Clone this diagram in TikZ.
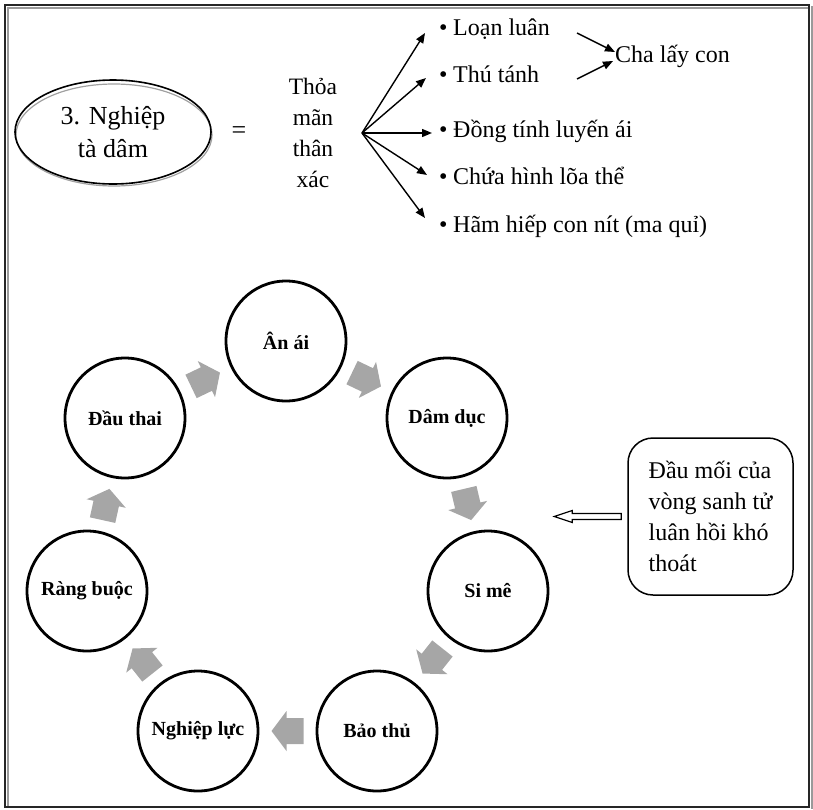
\documentclass[tikz,border=0pt]{standalone}
\usepackage{fontspec}
\setmainfont{Liberation Serif}
\usetikzlibrary{calc,shapes.geometric,arrows.meta}
\definecolor{stepgray}{HTML}{A6A6A6}
\definecolor{framegray}{HTML}{9A9A9A}
\definecolor{shadowgray}{HTML}{A0A0A0}

% grey block arrow half way between two stage circles, pointing from #1 to #2
\newcommand\cyclestep[2]{%
  \fill[stepgray] let \p1=(#1.center), \p2=(#2.center),
      \n1={atan2(\y2-\y1,\x2-\x1)},
      \p3=($(\p1)!0.5!(\p2)$) in
    ($(\p3)+(\n1:16pt)$)
    -- ($(\p3)+(\n1:1pt)+(\n1+90:20pt)$)
    -- ($(\p3)+(\n1:1pt)+(\n1+90:13pt)$)
    -- ($(\p3)+(\n1:-16pt)+(\n1+90:13pt)$)
    -- ($(\p3)+(\n1:-16pt)+(\n1-90:13pt)$)
    -- ($(\p3)+(\n1:1pt)+(\n1-90:13pt)$)
    -- ($(\p3)+(\n1:1pt)+(\n1-90:20pt)$)
    -- cycle;}

\begin{document}
\begin{tikzpicture}[x=1pt,y=-1pt,
  stage/.style={circle,draw,line width=2.8pt,minimum size=120pt,inner sep=0pt,
    font=\fontsize{20}{22}\selectfont\bfseries},
  item/.style={anchor=base west,inner sep=0pt,font=\fontsize{24}{28}\selectfont},
  fan/.style={line width=1.4pt,-{Triangle[length=10pt,width=8pt]}},
]
\useasboundingbox (0,0) rectangle (813,809);

% page frame
\draw[framegray,line width=1.2pt] (8,807) -- (8,8) -- (808,8);
\draw[framegray,line width=1.2pt] (812,6) -- (812,809);
\draw[black!85,line width=2pt] (5,5) rectangle (809,807);

% title ellipse
\coordinate (sinc) at (113,132);
\draw[shadowgray,line width=1.2pt] ($(sinc)+(1,3)$) ellipse [x radius=98pt,y radius=51pt];
\node[ellipse,draw,line width=1.6pt,minimum width=196pt,minimum height=104pt,
  align=center,font=\fontsize{26}{33}\selectfont] (sin) at (sinc) {3. Nghiệp\\tà dâm};

\node[font=\fontsize{26}{30}\selectfont] (eq) at (239,133) {=};
\node[align=center,font=\fontsize{23.5}{31.3}\selectfont] (body) at (313,133)
  {Thỏa\\mãn\\thân\\xác};

% list of forms
\node[item] (i1) at (439,35) {•\hspace{5.6pt}Loạn luân};
\node[item] (i2) at (439,82) {•\hspace{5.6pt}Thú tánh};
\node[item] (i3) at (439,137) {•\hspace{5.6pt}Đồng tính luyến ái};
\node[item] (i4) at (439,184) {•\hspace{5.6pt}Chứa hình lõa thể};
\node[item] (i5) at (439,232) {•\hspace{5.6pt}Hãm hiếp con nít (ma quỉ)};
\node[item] (cha) at (615,62) {Cha lấy con};

\coordinate (fan) at (362,133);
\coordinate (t1) at (425,33);
\coordinate (t2) at (426,78);
\coordinate (t3) at (432,133);
\coordinate (t4) at (427,175);
\coordinate (t5) at (425,218);
\foreach \t in {t1,t2,t3,t4,t5} \draw[fan] (fan) -- (\t);

\coordinate (c1) at (577,33);
\coordinate (c1e) at (615,52);
\coordinate (c2) at (577,79);
\coordinate (c2e) at (613,61);
\draw[fan] (c1) -- (c1e);
\draw[fan] (c2) -- (c2e);

% cycle of stages
\node[stage] (an) at (286,341) {Ân ái};
\node[stage] (dam) at (447,418) {Dâm dục};
\node[stage] (si) at (488,591) {Si mê};
\node[stage] (bao) at (377,731) {Bảo thủ};
\node[stage] (nghiep) at (198,731) {Nghiệp lực};
\node[stage] (rang) at (87,591) {Ràng buộc};
\node[stage] (dau) at (125,418) {Đầu thai};

\cyclestep{dau}{an}
\cyclestep{an}{dam}
\cyclestep{dam}{si}
\cyclestep{si}{bao}
\cyclestep{bao}{nghiep}
\cyclestep{nghiep}{rang}
\cyclestep{rang}{dau}

% note box with hollow pointer
\node[draw,rounded corners=25pt,line width=1.5pt,minimum width=165pt,minimum height=157pt,
  align=left,font=\fontsize{24}{31}\selectfont]
  (note) at (710.5,516.5) {Đầu mối của\\vòng sanh tử\\luân hồi khó\\thoát};
\coordinate (ha) at ($(note.west)+(-6,0)$);
\draw[line width=1.2pt,fill=white] (ha) ++(0,-3) -- ++(-49,0) -- ++(0,-3)
  -- ++(-18,6) -- ++(18,6) -- ++(0,-3) -- ++(49,0) -- cycle;
\end{tikzpicture}
\end{document}
